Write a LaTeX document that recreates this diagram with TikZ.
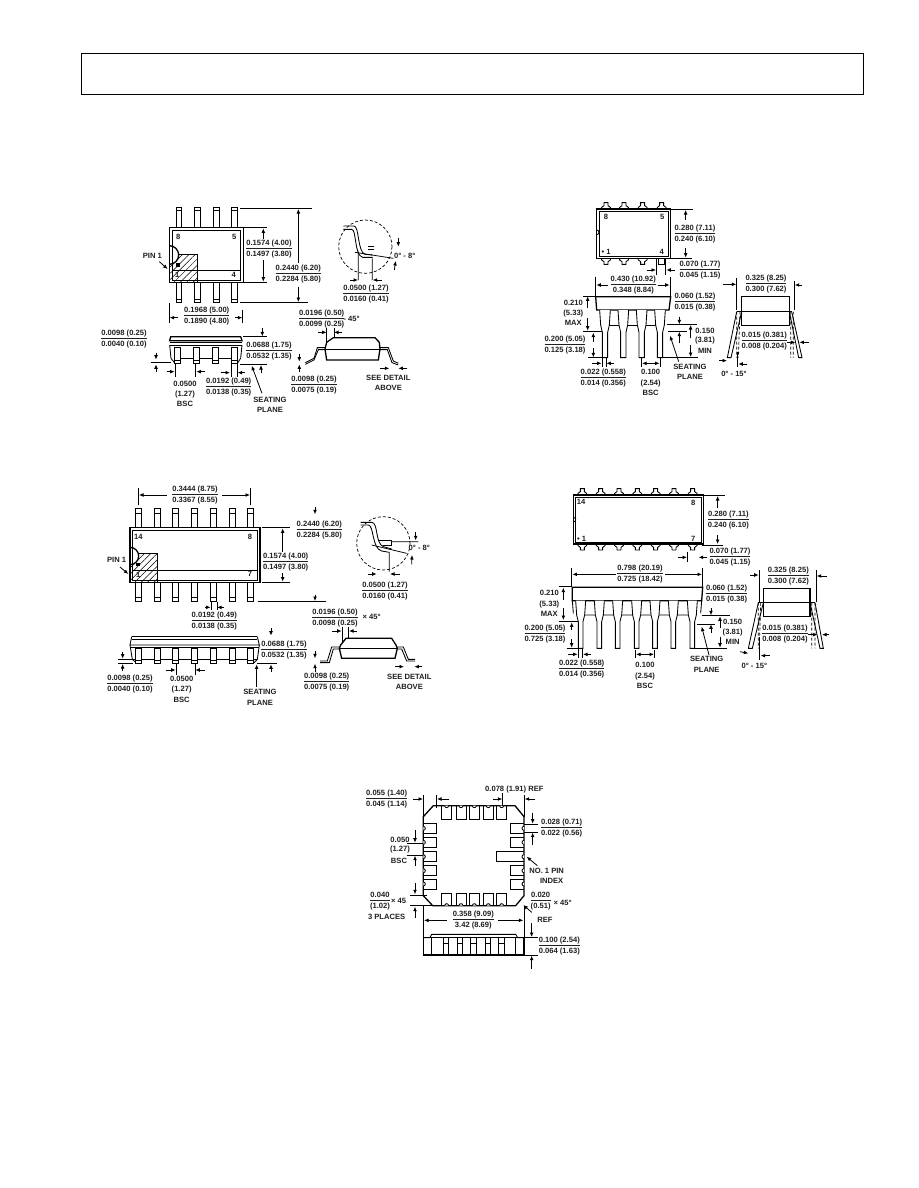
\documentclass[tikz,border=0pt]{standalone}
\usepackage{fontspec}
\setmainfont{Liberation Sans}
\usetikzlibrary{arrows.meta,patterns.meta}
\newcounter{nn}
\setlength{\arrayrulewidth}{.7pt}
\newcommand\ff[2]{\setlength{\tabcolsep}{0pt}\renewcommand{\arraystretch}{.95}\begin{tabular}{c}#1\\\hline\rule{0pt}{7.8pt}#2\end{tabular}}
\newcommand\fl[3]{\stepcounter{nn}\node[lab] (n\arabic{nn}) at (#1) {\ff{#2}{#3}};}
\newcommand\tl[2]{\stepcounter{nn}\node[lab] (n\arabic{nn}) at (#1) {#2};}
\newcommand\dm[2]{\draw[dimarrow] (#1) -- (#2);}
\newcommand\ex[2]{\draw[extline] (#1) -- (#2);}
\newcommand\hattop[2]{\draw[thin line,fill=white] (#1-14,#2)--(#1-13,#2-5)--(#1-6,#2-10)--(#1-6,#2-19)--(#1+6,#2-19)--(#1+6,#2-10)--(#1+13,#2-5)--(#1+14,#2);}
\newcommand\hatbot[2]{\draw[thin line,fill=white] (#1-14,#2)--(#1-13,#2+5)--(#1-6,#2+10)--(#1-6,#2+18)--(#1+6,#2+18)--(#1+6,#2+10)--(#1+13,#2+5)--(#1+14,#2);}
\tikzset{
 lab/.style={inner sep=0pt,font=\fontsize{7.6}{8.8}\selectfont\bfseries,text=black!88},
 dimarrow/.style={-{Latex[length=4.5pt,width=3.8pt]},line width=.8pt},
 extline/.style={line width=.75pt},
 body/.style={line width=1.3pt},
 thin line/.style={line width=.85pt},
 hatching/.style={pattern={Lines[angle=45,distance=4.5pt,line width=.5pt]}},
 bigdash/.style={line width=.7pt,dash pattern=on 3pt off 2pt}
}
\begin{document}
\begin{tikzpicture}[x=1pt,y=-1pt]
\useasboundingbox (0,0) rectangle (918,1188);
\fill[white] (0,0) rectangle (918,1188);
\draw[line width=1pt] (81,54) rectangle (863,95);

%%% SOIC-8
\begin{scope}[shift={(130,195)},x=.33333pt,y=-.33333pt]
\foreach \p in {138,193,250,304}{
 \draw[thin line] (\p,98) -- (\p,38) -- (\p+17,38) -- (\p+17,98);
 \draw[thin line] (\p,46) -- (\p+17,46);
 \draw[thin line] (\p,262) -- (\p,322) -- (\p+17,322) -- (\p+17,262);
 \draw[thin line] (\p,314) -- (\p+17,314);
}
\fill[white] (118,98) rectangle (340,262);
\draw[hatching] (118,178) rectangle (203,262);
\draw[body,fill=white] (118,152) arc (-90:90:28);
\draw[body] (118,98) rectangle (340,262);
\draw[thin line] (128,106) -- (332,106) -- (332,255) -- (128,255) -- cycle;
\draw[thin line] (128,226) -- (332,226);
\fill (138,205) rectangle (150,215);
\tl{145,125}{8} \tl{313,125}{5} \tl{142,240}{1} \tl{311,240}{4}
\tl{67,182}{PIN 1}
\dm{88,200}{113,222}
\ex{330,40}{545,40} \ex{340,98}{412,98} \ex{340,262}{412,262} \ex{330,323}{535,323}
\dm{505,90}{505,42} \dm{505,275}{505,321} \draw[extline] (505,90)--(505,205);
\dm{400,125}{400,100} \dm{400,195}{400,260} \draw[extline] (400,125)--(400,132);
\fl{417,162}{0.1574 (4.00)}{0.1497 (3.80)}
\fl{505,237}{0.2440 (6.20)}{0.2284 (5.80)}
% detail
\draw[bigdash] (706,155) circle (80);
\draw[thin line] (640,93) -- (672,93) .. controls (688,93) and (682,170) .. (705,178) -- (728,180);
\draw[thin line] (640,103) -- (665,103) .. controls (680,103) and (672,180) .. (698,187) -- (728,187);
\draw[thin line] (715,153)--(732,153) (715,163)--(732,163);
\draw[extline] (675,172)--(790,190) (685,170)--(685,255) (727,190)--(727,255);
\dm{660,255}{684,255} \dm{756,255}{728,255}
\dm{805,130}{805,155} \dm{793,225}{797,198}
\tl{824,182}{0° - 8°}
\fl{708,298}{0.0500 (1.27)}{0.0160 (0.41)}
\fl{230,365}{0.1968 (5.00)}{0.1890 (4.80)}
\ex{118,325}{118,385} \ex{338,345}{338,385}
\dm{145,368}{119,368} \dm{315,368}{337,368}
% side
\draw[body] (122,425)--(332,425)--(336,437)--(119,437)--cycle;
\draw[thin line] (119,441)--(336,441);
\draw[thin line] (119,450)--(336,450);
\draw[thin line] (119,450)--(123,490)--(135,505) (336,450)--(332,490)--(322,505);
\draw[thin line] (133,490)--(321,490);
\foreach \p in {133,190,247,303}{
 \draw[thin line,fill=white] (\p,458) -- (\p,505) -- (\p+18,505) -- (\p+18,458) -- cycle;
 \draw[thin line] (\p,497)--(\p+18,497);
}
\fl{-18,434}{0.0098 (0.25)}{0.0040 (0.10)}
\dm{78,473}{78,494} \dm{78,532}{78,508} \ex{62,502}{122,502}
\fl{417,468}{0.0688 (1.75)}{0.0532 (1.35)}
\dm{397,398}{397,424} \dm{393,535}{393,510}
\ex{340,425}{412,425} \ex{330,507}{412,507}
\tl{165,567}{0.0500} \tl{165,600}{(1.27)} \tl{165,627}{BSC}
\dm{110,530}{134,530} \dm{225,530}{199,530} \ex{136,505}{136,545} \ex{197,505}{197,545}
\fl{296,577}{0.0192 (0.49)}{0.0138 (0.35)}
\dm{272,533}{300,533} \dm{345,533}{323,533} \ex{303,505}{303,545} \ex{321,505}{321,545}
\tl{420,615}{SEATING} \tl{420,645}{PLANE}
\dm{396,595}{365,512}
% gull
\draw[body] (585,462)--(590,442)--(610,428)--(735,428)--(748,442)--(750,462)--(745,495)--(590,495)--cycle;
\draw[thin line] (585,462)--(750,462);
\draw[thin line] (585,458)--(562,458)--(552,490)--(526,503);
\draw[thin line] (750,458)--(775,458)--(790,498)--(805,505);
\draw[thin line] (526,508)--(552,495)--(565,464)--(585,464) (750,464)--(772,464)--(786,503)--(805,510);
\fl{575,373}{0.0196 (0.50)}{0.0099 (0.25)}
\tl{665,372}{- 45°}
\dm{563,412}{590,412} \dm{637,412}{612,412} \ex{590,400}{590,440} \ex{612,400}{612,428}
\fl{552,571}{0.0098 (0.25)}{0.0075 (0.19)}
\dm{508,478}{508,500} \dm{508,530}{508,508}
\tl{775,550}{SEE DETAIL} \tl{775,580}{ABOVE}
\dm{750,520}{778,520} \dm{832,520}{805,520}
\end{scope}

%%% DIP-8
\begin{scope}[shift={(520,195)},x=.33333pt,y=-.33333pt]
\foreach \p in {258,312,368,425}{ \hattop{\p}{42} }
\foreach \p in {258,312,368}{ \hatbot{\p}{190} }
\draw[thin line] (416,190)--(416,207)--(434,207)--(434,190);
\draw[body] (230,42) rectangle (452,190);
\draw[thin line] (237,50) rectangle (445,185);
\draw[thin line] (230,105) arc (-90:90:7);
\tl{258,65}{8} \tl{427,65}{5} \tl{258,170}{• 1} \tl{425,170}{4}
\ex{450,42}{520,42} \ex{452,190}{515,190}
\dm{497,75}{497,45} \dm{497,160}{497,188}
\fl{525,117}{0.280 (7.11)}{0.240 (6.10)}
\ex{410,190}{410,240} \ex{437,190}{437,240}
\dm{380,225}{408,225} \dm{465,225}{439,225}
\fl{540,225}{0.070 (1.77)}{0.045 (1.15)}
\fl{340,270}{0.430 (10.92)}{0.348 (8.84)}
\ex{227,245}{227,305} \ex{451,245}{451,305}
\dm{265,270}{229,270} \dm{413,270}{449,270}
\draw[body] (227,305)--(452,305)--(447,345)--(230,345)--cycle;
\draw[thin line] (262,390)--(410,390);
\foreach \c in {255,310,365,420}{
 \draw[thin line,fill=white] (\c-16,345)--(\c-13,390)--(\c-8,412)--(\c-8,488)--(\c+8,488)--(\c+8,412)--(\c+13,390)--(\c+16,345);
}
\tl{160,323}{0.210} \tl{160,355}{(5.33)} \tl{160,385}{MAX}
\dm{203,340}{203,304} \dm{203,370}{203,407} \ex{190,303}{227,303} \ex{190,408}{245,408}
\fl{135,450}{0.200 (5.05)}{0.125 (3.18)}
\dm{220,440}{220,413} \dm{220,460}{220,487} \ex{205,488}{245,488}
\fl{250,550}{0.022 (0.558)}{0.014 (0.356)}
\dm{215,505}{245,505} \dm{282,505}{259,505} \ex{246,490}{246,515} \ex{258,490}{258,515}
\tl{392,532}{0.100} \tl{392,565}{(2.54)} \tl{392,595}{BSC}
\ex{365,488}{365,515} \ex{420,488}{420,515}
\dm{392,505}{366,505} \dm{392,505}{419,505}
\fl{525,323}{0.060 (1.52)}{0.015 (0.38)}
\dm{478,365}{478,388} \dm{478,445}{478,410}
\ex{440,388}{530,388} \ex{445,408}{500,408}
\tl{555,407}{0.150} \tl{555,438}{(3.81)} \tl{555,468}{MIN}
\dm{512,430}{512,390} \dm{512,450}{512,486} \ex{430,488}{535,488}
\tl{510,517}{SEATING} \tl{510,547}{PLANE}
\dm{476,500}{450,422}
% right
\draw[body] (665,350)--(665,305)--(808,305)--(808,392)--(665,392)--(665,350);
\draw[thin line] (650,350)--(815,350);
\draw[thin line] (650,350)--(622,488)--(633,488)--(665,350);
\draw[thin line] (815,350)--(846,488)--(836,488)--(808,350);
\draw[bigdash] (660,350)--(655,488) (650,350)--(650,488) (812,350)--(812,488) (820,350)--(820,488);
\fl{738,268}{0.325 (8.25)}{0.300 (7.62)}
\dm{610,268}{649,268} \dm{846,270}{824,270} \ex{650,250}{650,345} \ex{822,258}{822,345}
\fl{733,440}{0.015 (0.381)}{0.008 (0.204)}
\dm{800,442}{826,442} \dm{866,442}{838,442}
\tl{642,538}{0° - 15°}
\dm{598,497}{621,497} \dm{682,507}{655,507} \ex{652,470}{652,515}
\end{scope}

%%% SOIC-14
\begin{scope}[shift={(100,475)},x=.33333pt,y=-.33333pt]
\foreach \p in {105,162,217,273,330,387,442}{
 \draw[thin line] (\p,158) -- (\p,100) -- (\p+18,100) -- (\p+18,158);
 \draw[thin line] (\p,114) -- (\p+18,114);
 \draw[thin line] (\p,322) -- (\p,380) -- (\p+18,380) -- (\p+18,322);
 \draw[thin line] (\p,368) -- (\p+18,368);
}
\fill[white] (90,158) rectangle (480,322);
\draw[hatching] (90,235) rectangle (172,322);
\draw[body,fill=white] (90,217) arc (-90:90:26);
\draw[body] (90,158) rectangle (480,322);
\draw[thin line] (97,165) -- (473,165) -- (473,316) -- (97,316) -- cycle;
\draw[thin line] (97,285) -- (473,285);
\fill (108,263) rectangle (120,274);
\tl{115,185}{14} \tl{450,185}{8} \tl{115,300}{1} \tl{450,298}{7}
\tl{50,256}{PIN 1}
\dm{60,276}{85,297}
\fl{285,62}{0.3444 (8.75)}{0.3367 (8.55)}
\ex{115,38}{115,90} \ex{452,38}{452,90}
\dm{200,60}{117,60} \dm{365,60}{450,60}
\fl{658,165}{0.2440 (6.20)}{0.2284 (5.80)}
\dm{645,96}{645,118} \dm{645,360}{645,378} \ex{475,380}{678,380}
\fl{557,262}{0.1574 (4.00)}{0.1497 (3.80)}
\ex{485,157}{570,157} \ex{485,322}{570,322}
\dm{548,230}{548,160} \dm{548,295}{548,320}
% detail
\draw[bigdash] (850,205) circle (80);
\draw[thin line] (782,142)--(815,142) .. controls (835,142) and (825,205) .. (850,215) -- (875,222);
\draw[thin line] (782,150)--(805,150) .. controls (822,150) and (815,220) .. (845,228) -- (868,232);
\draw[thin line] (835,197)--(875,197)--(875,210)--(850,210);
\draw[extline] (875,200)--(955,200) (815,210)--(920,235) (868,232)--(868,290);
\dm{947,172}{947,196} \dm{935,268}{936,240}
\tl{958,220}{0° - 8°}
\fl{855,348}{0.0500 (1.27)}{0.0160 (0.41)}
\dm{803,297}{830,297} \dm{900,297}{870,297}
\fl{343,440}{0.0192 (0.49)}{0.0138 (0.35)}
\dm{315,397}{332,397} \dm{372,397}{351,397} \ex{333,380}{333,405} \ex{351,380}{351,405}
% side
\draw[body] (95,485)--(472,485);
\draw[line width=1.4pt] (95,494)--(472,494);
\draw[thin line] (95,485)--(90,510)--(478,510)--(472,485);
\draw[thin line] (90,518)--(478,518);
\draw[thin line] (90,510)--(97,553)--(110,565) (478,510)--(472,553)--(460,565);
\draw[thin line] (97,553)--(472,553);
\foreach \p in {105,162,217,273,330,387,442}{
 \draw[thin line,fill=white] (\p,520) rectangle (\p+18,565);
 \draw[thin line] (\p,556)--(\p+18,556);
}
\fl{552,525}{0.0688 (1.75)}{0.0532 (1.35)}
\dm{513,460}{513,482} \dm{513,590}{513,568} \ex{472,565}{530,565}
\fl{90,628}{0.0098 (0.25)}{0.0040 (0.10)}
\dm{68,530}{68,551} \dm{68,588}{68,567} \ex{55,553}{95,553} \ex{55,565}{100,565}
\tl{245,613}{0.0500} \tl{245,645}{(1.27)} \tl{245,675}{BSC}
\dm{197,585}{227,585} \dm{315,585}{286,585} \ex{228,565}{228,600} \ex{285,565}{285,600}
\tl{480,652}{SEATING} \tl{480,683}{PLANE}
\dm{470,636}{470,568}
% gull
\draw[body] (718,520)--(722,510)--(738,490)--(875,490)--(888,510)--(892,520)--(885,550)--(725,550)--cycle;
\draw[thin line] (718,520)--(892,520);
\draw[thin line] (720,516)--(695,516)--(682,558)--(660,558);
\draw[thin line] (720,522)--(700,522)--(688,563)--(660,563);
\draw[thin line] (890,516)--(910,516)--(925,553)--(945,553);
\draw[thin line] (890,522)--(905,522)--(920,558)--(945,558);
\fl{705,430}{0.0196 (0.50)}{0.0098 (0.25)}
\tl{815,425}{× 45°}
\dm{697,468}{725,468} \dm{772,468}{747,468} \ex{727,455}{727,500} \ex{746,455}{746,490}
\fl{680,623}{0.0098 (0.25)}{0.0075 (0.19)}
\dm{645,528}{645,550} \dm{645,592}{645,566}
\tl{928,606}{SEE DETAIL} \tl{928,636}{ABOVE}
\dm{885,575}{912,575} \dm{967,575}{943,575}
\end{scope}

%%% DIP-14
\begin{scope}[shift={(510,480)},x=.33333pt,y=-.33333pt]
\foreach \p in {217,272,327,382,437,492,548}{ \hattop{\p}{45} \hatbot{\p}{192} }
\draw[body] (190,45) rectangle (580,192);
\draw[thin line] (195,52) rectangle (575,188);
\draw[thin line] (190,112) arc (-90:90:7);
\tl{213,66}{14} \tl{550,70}{8} \tl{215,177}{• 1} \tl{550,177}{7}
\ex{580,45}{645,45} \ex{575,195}{640,195}
\dm{623,85}{623,48} \dm{623,165}{623,192}
\fl{655,122}{0.280 (7.11)}{0.240 (6.10)}
\fl{660,233}{0.070 (1.77)}{0.045 (1.15)}
\dm{505,232}{531,232} \dm{592,232}{566,232} \ex{532,215}{532,245}
\fl{390,283}{0.798 (20.19)}{0.725 (18.42)}
\ex{185,265}{185,320} \ex{578,265}{578,320}
\dm{318,283}{187,283} \dm{465,283}{576,283}
\draw[body] (187,322)--(578,322)--(575,362)--(187,362)--cycle;
\draw[thin line] (187,362)--(190,400) (575,362)--(572,400) (222,405)--(545,405);
\foreach \c in {212,268,323,380,435,490,547}{
 \draw[thin line,fill=white] (\c-15,362)--(\c-12,405)--(\c-7,425)--(\c-7,505)--(\c+7,505)--(\c+7,425)--(\c+12,405)--(\c+15,362);
}
\tl{118,340}{0.210} \tl{118,373}{(5.33)} \tl{118,403}{MAX}
\dm{160,360}{160,323} \dm{160,385}{160,420} \ex{148,320}{185,320} \ex{148,423}{205,423}
\fl{105,462}{0.200 (5.05)}{0.725 (3.18)}
\dm{185,450}{185,427} \dm{185,478}{185,503} \ex{170,505}{205,505}
\fl{215,568}{0.022 (0.558)}{0.014 (0.356)}
\dm{175,523}{203,523} \dm{243,523}{219,523} \ex{205,505}{205,535} \ex{217,505}{217,535}
\tl{405,555}{0.100} \tl{405,590}{(2.54)} \tl{405,618}{BSC}
\ex{377,510}{377,535} \ex{433,510}{433,535}
\dm{405,523}{378,523} \dm{405,523}{432,523}
\fl{650,343}{0.060 (1.52)}{0.015 (0.38)}
\dm{603,385}{603,406} \dm{603,458}{603,433}
\ex{575,407}{660,407} \ex{560,432}{615,432}
\tl{668,425}{0.150} \tl{668,458}{(3.81)} \tl{668,487}{MIN}
\dm{630,445}{630,409} \dm{630,470}{630,503} \ex{555,505}{650,505}
\tl{590,538}{SEATING} \tl{590,570}{PLANE}
\dm{597,525}{575,440}
% right
\draw[body] (760,368)--(760,325)--(900,325)--(900,410)--(760,410)--(760,368);
\draw[thin line] (745,368)--(915,368);
\draw[thin line] (745,368)--(715,505)--(727,505)--(760,368);
\draw[thin line] (915,368)--(940,505)--(930,505)--(900,368);
\draw[bigdash] (752,368)--(748,505) (745,368)--(745,505) (905,368)--(905,505) (915,368)--(915,505);
\fl{835,288}{0.325 (8.25)}{0.300 (7.62)}
\dm{720,285}{746,285} \dm{950,288}{920,288} \ex{747,270}{747,365} \ex{918,270}{918,365}
\fl{825,462}{0.015 (0.381)}{0.008 (0.204)}
\dm{895,464}{922,464} \dm{958,464}{936,464}
\tl{733,558}{0° - 15°}
\dm{690,515}{715,520} \dm{780,527}{752,527} \ex{748,470}{748,540}
\end{scope}

%%% LCC
\begin{scope}[shift={(350,775)},x=.33333pt,y=-.33333pt]
\draw[body] (220,125)--(250,92)--(495,92)--(522,125)--(522,362)--(497,392)--(248,392)--(220,362)--cycle;
\foreach \p in {275,318,358,400,440}{
 \draw[thin line] (\p,92)--(\p,132)--(\p+30,132)--(\p+30,92);
 \draw[thin line] (\p,392)--(\p,355)--(\p+30,355)--(\p+30,392);
 \draw[thin line,fill=white] (\p+21,92) arc (0:180:6);
 \draw[thin line,fill=white] (\p+21,392) arc (0:-180:6);
}
\foreach \q in {145,187,230,272,312}{
 \draw[thin line] (220,\q)--(260,\q)--(260,\q+30)--(220,\q+30);
 \draw[thin line,fill=white] (220,\q+9) arc (-90:90:6);
}
\foreach \q in {145,187,272,312}{
 \draw[thin line] (522,\q)--(482,\q)--(482,\q+30)--(522,\q+30);
 \draw[thin line,fill=white] (522,\q+9) arc (-90:-270:6);
}
\draw[thin line] (522,230)--(440,230)--(440,260)--(522,260);
\draw[thin line,fill=white] (522,239) arc (-90:-270:6);
\fl{110,72}{0.055 (1.40)}{0.045 (1.14)}
\dm{190,72}{219,72} \dm{298,72}{261,72} \ex{220,60}{220,125} \ex{260,60}{260,100}
\tl{493,45}{0.078 (1.91) REF}
\dm{430,72}{457,72} \dm{556,72}{524,72} \ex{458,55}{458,92} \ex{522,60}{522,125}
\fl{635,160}{0.028 (0.71)}{0.022 (0.56)}
\dm{548,115}{548,146} \dm{548,210}{548,173} \ex{522,147}{565,147} \ex{522,172}{565,172}
\tl{150,195}{0.050} \tl{150,225}{(1.27)} \tl{147,257}{BSC}
\dm{195,165}{195,203} \dm{195,272}{195,242} \ex{170,205}{220,205} \ex{170,240}{220,240}
\tl{590,288}{NO. 1 PIN} \tl{605,318}{INDEX}
\dm{562,272}{530,245}
\fl{90,378}{0.040}{(1.02)} \tl{146,379}{× 45}
\tl{110,425}{3 PLACES}
\dm{195,325}{195,358} \dm{195,428}{195,395} \ex{180,360}{230,360} \ex{180,392}{250,392}
\fl{572,380}{0.020}{(0.51)} \tl{638,385}{× 45°} \tl{585,434}{REF}
\dm{545,412}{520,390}
\fl{370,436}{0.358 (9.09)}{3.42 (8.69)}
\dm{290,436}{222,436} \dm{445,436}{520,436}
\ex{220,392}{220,540} \ex{522,392}{522,540}
\draw[body] (220,488) rectangle (522,540);
\draw[thin line] (220,488)--(240,488)--(245,478)--(497,478)--(503,488)--(522,488);
\foreach \v in {245,280,295,322,337,362,378,405,420,445,462,497}{ \draw[thin line] (\v,488)--(\v,540); }
\foreach \a/\b in {280/295,322/337,362/378,405/420,445/462}{ \draw[thin line] (\a,505)--(\b,505); }
\dm{545,445}{545,486} \dm{545,582}{545,542} \ex{525,488}{565,488} \ex{525,540}{565,540}
\fl{628,515}{0.100 (2.54)}{0.064 (1.63)}
\end{scope}
\end{tikzpicture}
\end{document}
